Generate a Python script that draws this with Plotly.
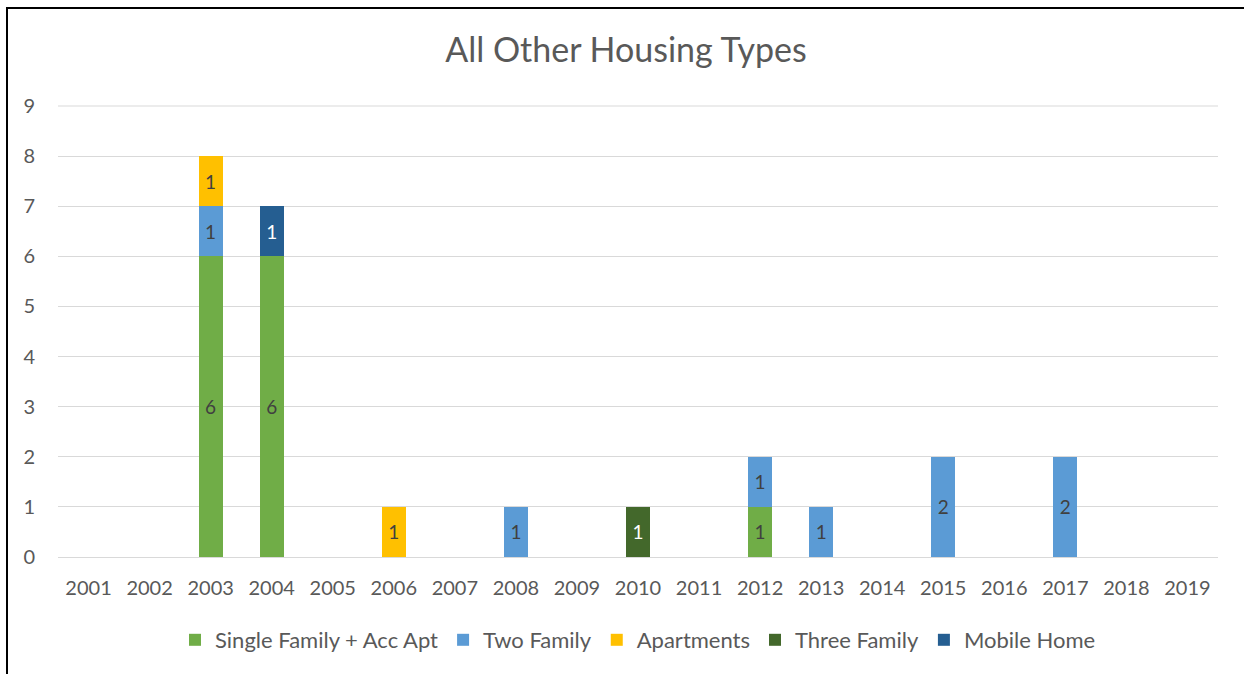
import plotly.graph_objects as go

years = [str(y) for y in range(2001, 2020)]
single_family = [0, 0, 6, 6, 0, 0, 0, 0, 0, 0, 0, 1, 0, 0, 0, 0, 0, 0, 0]
two_family = [0, 0, 1, 0, 0, 0, 0, 1, 0, 0, 0, 1, 1, 0, 2, 0, 2, 0, 0]
apartments = [0, 0, 1, 0, 0, 1, 0, 0, 0, 0, 0, 0, 0, 0, 0, 0, 0, 0, 0]
three_family = [0, 0, 0, 0, 0, 0, 0, 0, 0, 1, 0, 0, 0, 0, 0, 0, 0, 0, 0]
mobile_home = [0, 0, 0, 1, 0, 0, 0, 0, 0, 0, 0, 0, 0, 0, 0, 0, 0, 0, 0]
y_max = 9

series = [
    ("Single Family + Acc Apt", single_family, "#70AD47", "#404040"),
    ("Two Family", two_family, "#5B9BD5", "#404040"),
    ("Apartments", apartments, "#FFC000", "#404040"),
    ("Three Family", three_family, "#43682B", "#FFFFFF"),
    ("Mobile Home", mobile_home, "#255E91", "#FFFFFF"),
]

FONT = "Lato, 'Open Sans', sans-serif"

fig = go.Figure()
for name, vals, color, tcolor in series:
    fig.add_trace(go.Bar(
        name=name, x=years, y=vals,
        marker=dict(color=color, line=dict(width=0)),
        text=[str(v) if v else "" for v in vals],
        textposition="inside", insidetextanchor="middle",
        textfont=dict(color=tcolor, size=19, family=FONT),
        hoverinfo="x+y+name",
    ))

fig.update_layout(
    barmode="stack",
    bargap=0.61,
    width=1244, height=674,
    margin=dict(l=58, r=26, t=105, b=117),
    paper_bgcolor="white", plot_bgcolor="white",
    font=dict(family=FONT, color="#595959", size=20),
    title=dict(text="All Other Housing Types", x=626/1244, xref="container", xanchor="center",
               y=1-50/674, yref="container", yanchor="middle",
               font=dict(size=34, color="#595959", family=FONT)),
    legend=dict(orientation="h", x=0.5, xanchor="center", y=(557-640)/452, yanchor="middle",
                font=dict(size=22, color="#595959", family=FONT), traceorder="normal",
                itemwidth=30),
    xaxis=dict(showgrid=False, showline=False, ticks="outside", ticklen=13,
               tickcolor="rgba(0,0,0,0)", tickfont=dict(size=20, color="#595959")),
    yaxis=dict(range=[0, y_max + 0.02], tick0=0, dtick=1, showgrid=True, gridcolor="#D9D9D9", gridwidth=1,
               zeroline=True, zerolinecolor="#D9D9D9", zerolinewidth=1,
               ticks="outside", ticklen=18, tickcolor="rgba(0,0,0,0)",
               tickfont=dict(size=20, color="#595959")),
    shapes=[
        dict(type="line", xref="paper", yref="y", x0=0, x1=1, y0=y_max, y1=y_max,
             line=dict(color="#D9D9D9", width=1), layer="below"),
        dict(type="rect", xref="paper", yref="paper",
             x0=(7-58)/1160, x1=1.2, y0=-0.6, y1=(557-8)/452,
             line=dict(color="black", width=2), fillcolor="rgba(0,0,0,0)", layer="above"),
    ],
)

fig.write_html("out.html", config={"displayModeBar": False},
               post_script="document.body.style.margin='0';document.body.style.overflow='hidden';")
